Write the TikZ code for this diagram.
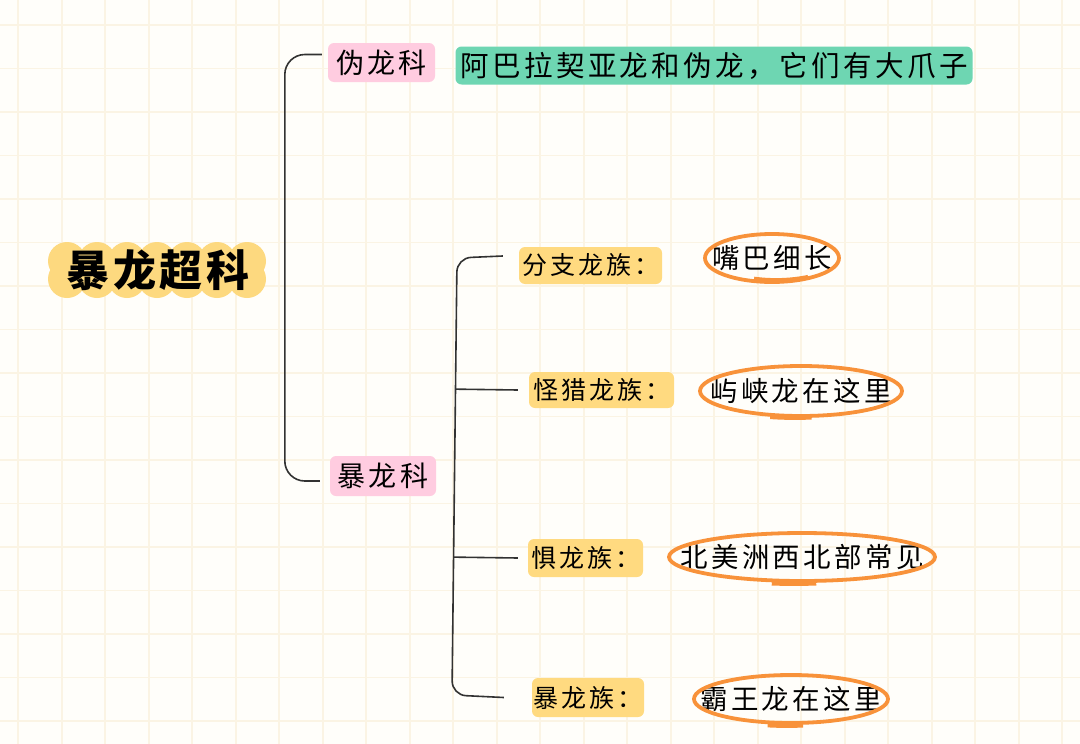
\documentclass[tikz,border=0pt]{standalone}
\usepackage{fontspec}
\newfontfamily\cjk[LetterSpace=12]{Noto Sans CJK SC}
\newfontfamily\cjkroot[LetterSpace=8]{Noto Sans CJK SC}
\usetikzlibrary{calc}
\definecolor{bgc}{RGB}{255,254,250}
\definecolor{gridc}{RGB}{251,244,228}
\definecolor{rootc}{RGB}{253,217,127}
\definecolor{pinkc}{RGB}{255,204,224}
\definecolor{greenc}{RGB}{110,214,178}
\definecolor{tagc}{RGB}{255,218,128}
\definecolor{orangec}{RGB}{248,146,58}
\definecolor{linec}{RGB}{50,50,50}
\begin{document}
\begin{tikzpicture}[x=1pt,y=-1pt,
  gridline/.style={draw=gridc,line width=1.8pt},
  fam/.style={fill=pinkc,rounded corners=6pt,inner sep=0pt,font=\cjk\fontsize{28}{30}\selectfont},
  note/.style={fill=greenc,rounded corners=6pt,inner sep=0pt,font=\cjk\fontsize{28.5}{30}\selectfont},
  tribe/.style={fill=tagc,rounded corners=6pt,inner sep=0pt,font=\cjk\fontsize{25}{27}\selectfont},
  desc/.style={inner sep=0pt,font=\cjk\fontsize{27.5}{29}\selectfont},
  brk/.style={draw=linec,line width=1.6pt},
  circ/.style={draw=orangec,line width=3.8pt}]
\useasboundingbox (0,0) rectangle (1080,744);
\fill[bgc] (0,0) rectangle (1080,744);
% grid
\foreach \i in {0,...,24} \draw[gridline] ({18.3+43.5*\i},0) -- ({18.3+43.5*\i},744);
\foreach \j in {0,...,16} \draw[gridline] (0,{25+43.5*\j}) -- (1080,{25+43.5*\j});
% root cloud
\fill[rootc] (67,256) rectangle (247,284);
\foreach \cx in {67,97,127,157,187,217,247} {
  \fill[rootc] (\cx,261) circle (19);
  \fill[rootc] (\cx,279) circle (19);
}
\node[inner sep=0pt,font=\cjkroot\bfseries\fontsize{43}{45}\selectfont] (root) at (158,270) {暴龙超科};
% families
\node[fam,minimum width=107pt,minimum height=39pt] (f1) at (381.5,62.5) {伪龙科};
\node[fam,minimum width=106pt,minimum height=40pt] (f2) at (383,476) {暴龙科};
\node[note,minimum width=517pt,minimum height=38pt] (g1) at (714,65.5) {阿巴拉契亚龙和伪龙，它们有大爪子};
% tribes
\node[tribe,minimum width=143pt,minimum height=37pt] (t1) at (590.5,265.5) {分支龙族：};
\node[tribe,minimum width=145pt,minimum height=36pt] (t2) at (601.5,390) {怪猎龙族：};
\node[tribe,minimum width=115pt,minimum height=38pt] (t3) at (585.5,558) {惧龙族：};
\node[tribe,minimum width=112pt,minimum height=39pt] (t4) at (588,697.5) {暴龙族：};
% descriptions
\node[desc] (d1) at (772,258) {嘴巴细长};
\node[desc] (d2) at (801,391) {屿峡龙在这里};
\node[desc] (d3) at (802,557) {北美洲西北部常见};
\node[desc] (d4) at (791,699) {霸王龙在这里};
% orange rings
\draw[circ] (d1.center) ellipse [x radius=67, y radius=24];
\draw[circ] ([shift={(4,-2)}]d1.center) ++(60:64 and 24) arc [start angle=60, end angle=110, x radius=64, y radius=24];
\draw[circ] (d2.center) ellipse [x radius=101, y radius=25];
\draw[circ] ([shift={(-6,3)}]d2.center) ++(80:96 and 24) arc [start angle=80, end angle=105, x radius=96, y radius=24];
\draw[circ] (d3.center) ellipse [x radius=133, y radius=24];
\draw[circ] ([shift={(-8,3)}]d3.center) ++(80:128 and 24) arc [start angle=80, end angle=100, x radius=128, y radius=24];
\draw[circ] (d4.center) ellipse [x radius=97, y radius=24];
\draw[circ] ([shift={(-4,3)}]d4.center) ++(80:93 and 24) arc [start angle=80, end angle=102, x radius=93, y radius=24];
% bracket root -> families
\draw[brk,rounded corners=20pt] ($(f1.west)+(-6,-8)$) -- ($(f1.west)+(-43,-8)$) |- ($(f2.west)+(-10,5)$);
% bracket 暴龙科 -> tribes
\coordinate (b2top) at (457,258);
\coordinate (b2bot) at (452,695);
\draw[brk,rounded corners=14pt] ($(t1.west)+(-16,-9.5)$) -- (b2top) -- (b2bot) -- ($(t4.west)+(-28,0)$);
\draw[brk] ($(b2top)!(t2.west)!(b2bot)$) -- ($(t2.west)+(-11,0)$);
\draw[brk] ($(b2top)!(t3.west)!(b2bot)$) -- ($(t3.west)+(-10,0)$);
\end{tikzpicture}
\end{document}
